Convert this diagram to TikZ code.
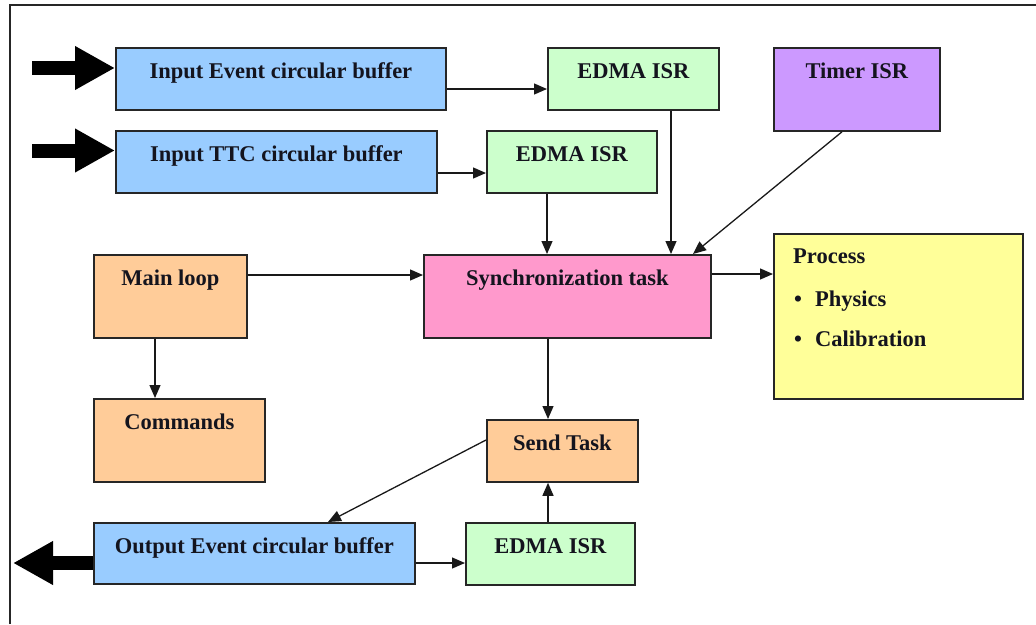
\documentclass[tikz,border=0pt]{standalone}
\usepackage{fontspec}
\setmainfont{Liberation Serif}
\usetikzlibrary{arrows.meta}
\definecolor{cblue}{RGB}{153,204,255}
\definecolor{cgreen}{RGB}{204,255,204}
\definecolor{cpurple}{RGB}{204,153,255}
\definecolor{corange}{RGB}{255,204,153}
\definecolor{cpink}{RGB}{255,153,204}
\definecolor{cyellow}{RGB}{255,255,153}
\definecolor{txt}{RGB}{20,20,30}
\begin{document}
\begin{tikzpicture}[x=1pt,y=-1pt,
  box/.style={draw=black!85, line width=1.8pt, inner xsep=0pt, inner ysep=0pt,
    anchor=north west, text height=31pt,
    font=\fontsize{22.5pt}{27pt}\selectfont\bfseries, text=txt},
  lbl/.style={inner sep=0pt, font=\fontsize{22.5pt}{27pt}\selectfont\bfseries, text=txt},
  arr/.style={draw=black!90, line width=1.3pt, -{Triangle[length=13pt,width=11pt]}},
  fat/.style={draw=black, line width=14pt, -{Triangle[length=40pt,width=41pt]}},
  frame/.style={draw=black!85, line width=2pt}]
\useasboundingbox (0,0) rectangle (1036,624);
% frame
\draw[frame] (10,624) -- (10,5) -- (1036,5);
% boxes
\node[box, fill=cblue,   minimum width=330pt, text depth=31pt] (ie)    at (115,47)  {Input Event circular buffer};
\node[box, fill=cgreen,  minimum width=171pt, text depth=31pt] (edma1) at (547,47)  {EDMA ISR};
\node[box, fill=cpurple, minimum width=166pt, text depth=52pt] (timer) at (773,47)  {Timer ISR};
\node[box, fill=cblue,   minimum width=321pt, text depth=31pt] (ttc)   at (115,130) {Input TTC circular buffer};
\node[box, fill=cgreen,  minimum width=170pt, text depth=31pt] (edma2) at (486,130) {EDMA ISR};
\node[box, fill=corange, minimum width=153pt, text depth=52pt] (main)  at (93,254)  {Main loop};
\node[box, fill=cpink,   minimum width=287pt, text depth=52pt] (sync)  at (423,254) {Synchronization task};
\node[box, fill=cyellow, minimum width=249pt, text height=0pt, text depth=165pt] (proc) at (773,233) {};
\node[box, fill=corange, minimum width=171pt, text depth=52pt] (cmd)   at (93,398)  {Commands};
\node[box, fill=corange, minimum width=151pt, text depth=31pt] (send)  at (486,419) {Send Task};
\node[box, fill=cblue,   minimum width=321pt, text depth=30pt] (out)   at (93,522)  {Output Event circular buffer};
\node[box, fill=cgreen,  minimum width=169pt, text depth=31pt] (edma3) at (465,522) {EDMA ISR};
% process text
\node[lbl, anchor=base west] (ptitle) at (793,263) {Process};
\node[lbl, anchor=base west] (pphys)  at (794,306) {\makebox[21pt][l]{\textbullet}Physics};
\node[lbl, anchor=base west] (pcal)   at (794,346) {\makebox[21pt][l]{\textbullet}Calibration};
% thick arrows
\coordinate (in1) at (32,68);
\coordinate (in2) at (32,150.5);
\coordinate (o1)  at (13,563);
\draw[fat] (in1) -- (ie.west |- in1);
\draw[fat] (in2) -- (ttc.west |- in2);
\draw[fat] (out.west |- o1) -- (o1);
% connectors
\draw[arr] (ie.east |- 0,89) -- (edma1.west |- 0,89);
\draw[arr] (ttc.east |- 0,173) -- (edma2.west |- 0,173);
\draw[arr] (edma1.south -| 671,0) -- (sync.north -| 671,0);
\draw[arr] (edma2.south -| 547,0) -- (sync.north -| 547,0);
\draw[arr] (timer.south -| 842,0) -- (sync.north -| 693,0);
\draw[arr] (main.east |- 0,275) -- (sync.west |- 0,275);
\draw[arr] (sync.east |- 0,274) -- (proc.west |- 0,274);
\draw[arr] (main.south -| 155,0) -- (cmd.north -| 155,0);
\draw[arr] (sync.south -| 548,0) -- (send.north -| 548,0);
\draw[arr] (send.west |- 0,440) -- (out.north -| 328,0);
\draw[arr] (out.east |- 0,563) -- (edma3.west |- 0,563);
\draw[arr] (edma3.north -| 548,0) -- (send.south -| 548,0);
\end{tikzpicture}
\end{document}
